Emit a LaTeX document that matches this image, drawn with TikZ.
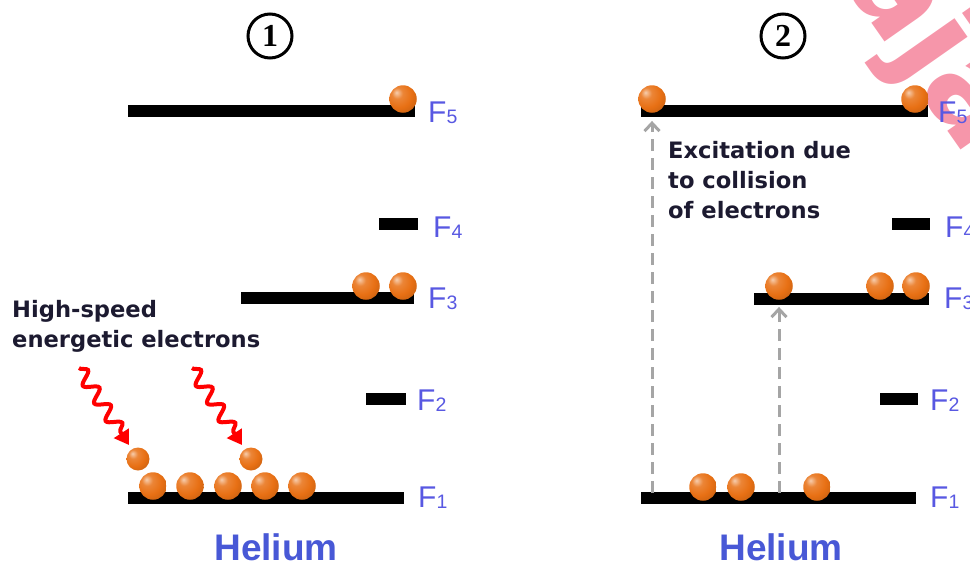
\documentclass[tikz,border=0pt]{standalone}
\usepackage{fontspec}
\setmainfont{Liberation Sans}
\newfontfamily\notefont{DejaVu Sans}
\newfontfamily\digitfont{Liberation Serif}
\usetikzlibrary{arrows.meta,decorations.pathmorphing}
\definecolor{ballc}{RGB}{232,112,20}
\definecolor{labc}{RGB}{88,88,226}
\definecolor{heliumc}{RGB}{72,88,214}
\definecolor{notec}{RGB}{28,26,48}
\definecolor{guidec}{RGB}{165,165,165}
\definecolor{markc}{RGB}{246,150,170}
% glossy orange sphere
\pgfdeclareradialshading{elecball}{\pgfpoint{-12bp}{12bp}}{%
  color(0bp)=(ballc!35!white);
  color(10bp)=(ballc!85!white);
  color(24bp)=(ballc);
  color(44bp)=(ballc!80!black);
  color(60bp)=(ballc!40!black);
  color(80bp)=(ballc!40!black)}
% subscript of an energy level name
\newcommand\lvlsub[1]{\raisebox{-1pt}{\fontsize{19.5}{19.5}\selectfont #1}}
\begin{document}
\begin{tikzpicture}[x=1pt,y=-1pt,
  lvl/.style={fill=black, inner sep=0pt, minimum height=12pt, anchor=west},
  elec/.style={circle, inner sep=0pt, minimum size=27.5pt, shading=elecball},
  fast/.style={elec, minimum size=23pt},
  flabel/.style={anchor=base west, inner sep=0pt, text=labc, font=\fontsize{30}{30}\selectfont},
  note/.style={anchor=north west, inner sep=0pt, text=notec, align=left, font=\notefont\bfseries\fontsize{22.6}{30}\selectfont},
  gas/.style={inner sep=0pt, text=heliumc, font=\bfseries\fontsize{37}{37}\selectfont},
  stage/.style={circle, draw=black, line width=3pt, minimum size=44pt, inner sep=0pt, font=\digitfont\bfseries\fontsize{32}{32}\selectfont},
  hit/.style={draw=red, line width=4pt, decorate, decoration={snake, amplitude=6.5pt, segment length=21pt, post length=13pt}, -{Triangle[length=14pt,width=17pt]}},
  lift/.style={draw=guidec, line width=3pt, dash pattern=on 12pt off 7pt, -{Straight Barb[length=8pt,width=15pt]}}
]
\useasboundingbox (0,0) rectangle (970,565);

% watermark in the corner
\node[rotate=-55, anchor=base west, inner sep=0pt, text=markc, font=\notefont\bfseries\fontsize{130}{130}\selectfont] (mark) at (840,-22) {aja};

% ---------- stage 1 ----------
\node[stage] (s1) at (270,36) {1};

\node[lvl, minimum width=287pt] (p1f5) at (128,111) {};
\node[lvl, minimum width=39pt]  (p1f4) at (379,224) {};
\node[lvl, minimum width=173pt] (p1f3) at (241,298) {};
\node[lvl, minimum width=40pt]  (p1f2) at (366,399) {};
\node[lvl, minimum width=276pt] (p1f1) at (128,498) {};

\node[flabel] (p1l5) at (428,122) {F\lvlsub{5}};
\node[flabel] (p1l4) at (433,237) {F\lvlsub{4}};
\node[flabel] (p1l3) at (428,308) {F\lvlsub{3}};
\node[flabel] (p1l2) at (417,410) {F\lvlsub{2}};
\node[flabel] (p1l1) at (418,507) {F\lvlsub{1}};

\node[elec] (p1e5)  at (403,99) {};
\node[elec] (p1e3a) at (366,286) {};
\node[elec] (p1e3b) at (403,286) {};
\node[elec] (p1e1a) at (153,486) {};
\node[elec] (p1e1b) at (190,486) {};
\node[elec] (p1e1c) at (228,486) {};
\node[elec] (p1e1d) at (265,486) {};
\node[elec] (p1e1e) at (302,486) {};

\node[fast] (p1fa) at (138,459) {};
\node[fast] (p1fb) at (251,459) {};

\coordinate (w1) at (79,368);
\coordinate (w2) at (192,368);
\draw[hit, shorten >=5pt] (w1) -- (p1fa);
\draw[hit, shorten >=5pt] (w2) -- (p1fb);

\node[note] (n1) at (12,300) {High-speed\\energetic electrons};

\node[gas] (g1) at (276,547) {Helium};

% ---------- stage 2 ----------
\node[stage] (s2) at (783,36) {2};

\node[lvl, minimum width=287pt] (p2f5) at (641,111) {};
\node[lvl, minimum width=38pt]  (p2f4) at (892,224) {};
\node[lvl, minimum width=175pt] (p2f3) at (754,298.5) {};
\node[lvl, minimum width=38pt]  (p2f2) at (880,399) {};
\node[lvl, minimum width=275pt] (p2f1) at (641,498) {};

\node[flabel] (p2l5) at (938,122) {F\lvlsub{5}};
\node[flabel] (p2l4) at (945,237) {F\lvlsub{4}};
\node[flabel] (p2l3) at (944,308) {F\lvlsub{3}};
\node[flabel] (p2l2) at (930,410) {F\lvlsub{2}};
\node[flabel] (p2l1) at (930,507) {F\lvlsub{1}};

\coordinate (u1) at (652,493);
\coordinate (u2) at (779,493);

\node[elec] (p2e5a) at (652,99) {};
\node[elec] (p2e5b) at (915,99) {};
\node[elec] (p2e3a) at (779,286) {};
\node[elec] (p2e3b) at (880,286) {};
\node[elec] (p2e3c) at (916,286) {};
\node[elec] (p2e1a) at (703,487) {};
\node[elec] (p2e1b) at (741,487) {};
\node[elec] (p2e1c) at (817,487) {};

\draw[lift, shorten >=8pt] (u1) -- (p2e5a);
\draw[lift, shorten >=7pt] (u2) -- (p2e3a);

\node[note] (n2) at (668,141) {Excitation due\\to collision\\of electrons};

\node[gas] (g2) at (781,547) {Helium};
\end{tikzpicture}
\end{document}
